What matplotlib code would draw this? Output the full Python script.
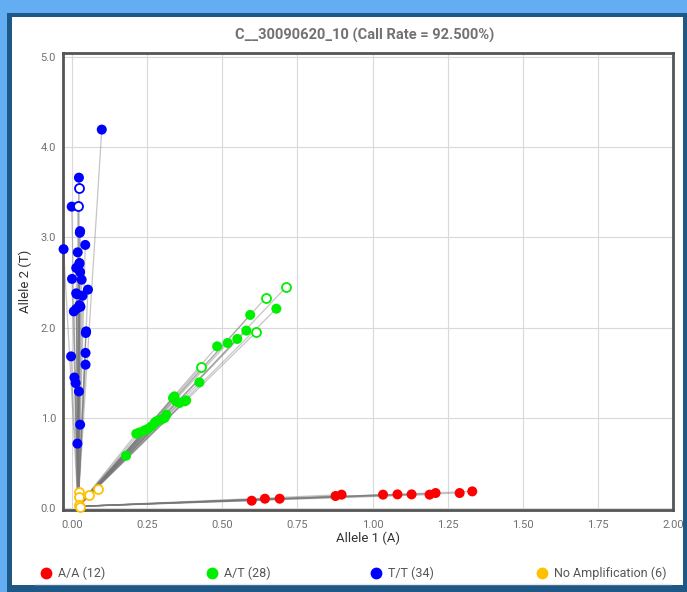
import matplotlib
matplotlib.use('Agg')
import numpy as np
import matplotlib.pyplot as plt
from matplotlib.patches import Rectangle
from matplotlib.lines import Line2D

plt.rcParams['font.family'] = ['Roboto', 'DejaVu Sans']

title = "C__30090620_10 (Call Rate = 92.500%)"
x_label = "Allele 1 (A)"
y_label = "Allele 2 (T)"
x_ticks = [0.0, 0.25, 0.5, 0.75, 1.0, 1.25, 1.5, 1.75, 2.0]
x_tick_labels = ["0.00", "0.25", "0.50", "0.75", "1.00", "1.25", "1.50", "1.75", "2.00"]
y_ticks = [0.0, 1.0, 2.0, 3.0, 4.0, 5.0]
y_tick_labels = ["0.0", "1.0", "2.0", "3.0", "4.0", "5.0"]

legend_labels = ["A/A (12)", "A/T (28)", "T/T (34)", "No Amplification (6)"]
colors = ["#FF0000", "#00EE00", "#0000FF", "#FFC000"]

# A/A (red)
aa_x = [0.598, 0.642, 0.691, 0.877, 0.897, 1.035, 1.083, 1.130, 1.190, 1.210, 1.290, 1.332]
aa_y = [0.083, 0.105, 0.105, 0.135, 0.150, 0.150, 0.153, 0.153, 0.150, 0.168, 0.168, 0.186]
aa_hollow = [False] * 12

# A/T (green)
at_x = [0.713, 0.644, 0.613, 0.428,
        0.680, 0.593, 0.580, 0.550, 0.518, 0.483, 0.424,
        0.336, 0.347, 0.358, 0.375, 0.380, 0.341,
        0.314, 0.308, 0.297, 0.280, 0.275, 0.264, 0.252, 0.241, 0.225, 0.214,
        0.180]
at_y = [2.450, 2.328, 1.951, 1.559,
        2.209, 2.140, 1.966, 1.874, 1.829, 1.792, 1.393,
        1.220, 1.183, 1.165, 1.183, 1.194, 1.238,
        1.035, 0.999, 0.980, 0.961, 0.944, 0.906, 0.877, 0.861, 0.839, 0.825,
        0.581]
at_hollow = [True, True, True, True] + [False] * 24

# T/T (blue)
tt_x = [0.099, 0.023, 0.023, -0.001, 0.019, 0.027, -0.028, 0.044, 0.019, 0.025,
        0.014, 0.027, 0.000, 0.032, 0.014, 0.035, 0.053, 0.025, 0.014, 0.006,
        0.047, -0.003, 0.045, 0.045, 0.008, 0.012, 0.023, 0.027, 0.018,
        0.026, 0.024, 0.016, 0.028, 0.046]
tt_y = [4.192, 3.660, 3.546, 3.339, 3.342, 3.068, 2.868, 2.915, 2.833, 2.715,
        2.660, 2.614, 2.539, 2.530, 2.379, 2.353, 2.420, 2.248, 2.206, 2.179,
        1.958, 1.681, 1.719, 1.589, 1.447, 1.386, 1.293, 0.925, 0.715,
        3.050, 2.700, 2.370, 2.230, 1.940]
tt_hollow = [False, False, True, False, True] + [False] * 29

# No Amplification (yellow)
na_x = [0.022, 0.022, 0.022, 0.055, 0.088, 0.025]
na_y = [0.183, 0.127, 0.039, 0.150, 0.216, 0.017]
na_hollow = [True] * 6

origin = (0.02, 0.02)

W, H = 687, 592
def fx(px):
    return px / W
def fy(py):
    return 1 - py / H

fig = plt.figure(figsize=(6.87, 5.92), dpi=100)
fig.patch.set_facecolor('#63AEF3')
fig.add_artist(Rectangle((fx(7), 0), 1.0, fy(13), transform=fig.transFigure,
                         facecolor='#1D5886', edgecolor='none', zorder=0))
fig.add_artist(Rectangle((fx(12), fy(585)), fx(683) - fx(12), fy(17) - fy(585),
                         transform=fig.transFigure, facecolor='white',
                         edgecolor='none', zorder=0.1))
fig.add_artist(Line2D([fx(35), fx(671)], [fy(584), fy(584)], transform=fig.transFigure,
                      color='#e8e8e8', lw=1, zorder=0.2))

ax = fig.add_axes([fx(63), fy(510), fx(673) - fx(63), fy(53) - fy(510)])
ax.set_zorder(1)
ax.set_facecolor('white')
ax.set_xlim(-0.03, 2.0)
ax.set_ylim(-0.02, 5.04)

ax.set_xticks(x_ticks)
ax.set_xticklabels(x_tick_labels)
ax.set_yticks(y_ticks)
ax.set_yticklabels(y_tick_labels)
ax.tick_params(length=0, labelsize=8, labelcolor='#707070')
ax.tick_params(axis='x', pad=7)
ax.tick_params(axis='y', pad=5)
ax.grid(True, color='#d9d9d9', lw=0.8)
ax.set_axisbelow(True)
for s in ax.spines.values():
    s.set_color('#555555')
    s.set_linewidth(2)

groups = [
    (aa_x, aa_y, aa_hollow, colors[0]),
    (at_x, at_y, at_hollow, colors[1]),
    (tt_x, tt_y, tt_hollow, colors[2]),
    (na_x, na_y, na_hollow, colors[3]),
]

# trajectory lines from the origin to each point
for xs, ys, hol, c in groups:
    for x, y in zip(xs, ys):
        ax.plot([origin[0], x], [origin[1], y], color='#777777', lw=0.9,
                alpha=0.42, zorder=2, solid_capstyle='round')

for xs, ys, hol, c in groups:
    xs = np.array(xs); ys = np.array(ys); hol = np.array(hol)
    if (~hol).any():
        ax.scatter(xs[~hol], ys[~hol], s=52, color=c, edgecolor='none', zorder=4,
                   clip_on=False)
    if hol.any():
        ax.scatter(xs[hol], ys[hol], s=42, facecolor='white', edgecolor=c,
                   linewidth=1.3, zorder=4, clip_on=False)

ax.set_xlabel(x_label, fontsize=9.5, color='#333333', labelpad=1)
ax.set_ylabel(y_label, fontsize=9.5, color='#333333', labelpad=6)

fig.text(fx(365), fy(35), title, ha='center', va='center', fontsize=10.5,
         color='#727272', fontweight='bold')

leg_marker_x = [46, 212, 376, 542]
for lx, lab, c in zip(leg_marker_x, legend_labels, colors):
    fig.add_artist(Line2D([fx(lx)], [fy(573)], marker='o', markersize=8.5, color=c,
                          markeredgecolor='none', linestyle='none',
                          transform=fig.transFigure, zorder=3))
    fig.text(fx(lx + 12), fy(573), lab, ha='left', va='center', fontsize=9,
             color='#555555')

fig.savefig('out.png', dpi=100, facecolor=fig.get_facecolor())
